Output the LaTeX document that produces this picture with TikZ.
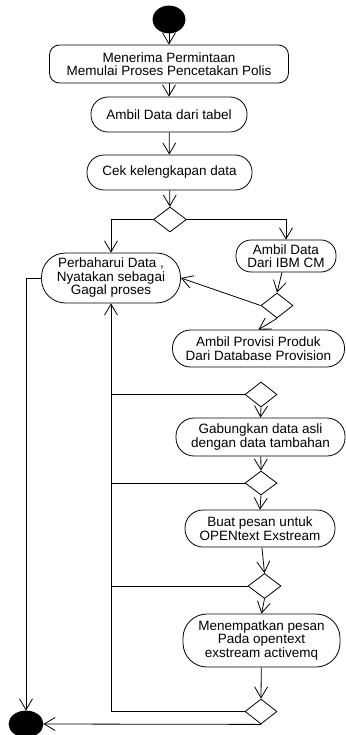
\documentclass[tikz,border=0pt]{standalone}
\usepackage{fontspec}
\setmainfont{Liberation Sans}
\usetikzlibrary{arrows.meta,shapes.geometric}
\begin{document}
\begin{tikzpicture}[x=1pt,y=-1pt,
  every path/.style={line width=0.8pt},
  act/.style={draw, fill=white, align=center, inner sep=0pt, font=\fontsize{13.5}{13.5}\selectfont},
  dec/.style={draw, fill=white, diamond, inner sep=0pt, minimum width=33pt, minimum height=25pt},
  blob/.style={ellipse, fill=black, draw=black, inner sep=0pt},
  arr/.style={-{Straight Barb[length=11pt,width=13pt]}}]
\useasboundingbox (0,0) rectangle (345,735);
\node[blob, minimum width=32pt, minimum height=27pt] (start) at (169,19.5) {};
\node[act, minimum width=239pt, minimum height=38pt, rounded corners=10pt] (b1) at (169,64) {Menerima Permintaan\\Memulai Proses Pencetakan Polis};
\node[act, minimum width=156pt, minimum height=35pt, rounded corners=17pt] (b2) at (169,114.5) {Ambil Data dari tabel};
\node[act, minimum width=165pt, minimum height=35pt, rounded corners=17pt] (b3) at (169.5,172.5) {Cek kelengkapan data};
\node[dec] (d1) at (170,219.5) {};
\node[act, minimum width=139pt, minimum height=50pt, rounded corners=24pt] (p) at (111,278) {Perbaharui Data ,\\Nyatakan sebagai\\Gagal proses};
\node[act, minimum width=100pt, minimum height=32pt, rounded corners=15pt] (ibm) at (286,256) {Ambil Data\\Dari IBM CM};
\node[dec, minimum width=32pt] (d2) at (277,305.5) {};
\node[act, minimum width=172pt, minimum height=37pt, rounded corners=18pt] (prov) at (258.5,348.5) {Ambil Provisi Produk\\Dari Database Provision};
\node[dec, minimum width=32pt] (d3) at (261,394.5) {};
\node[act, minimum width=169pt, minimum height=38pt, rounded corners=18pt] (gab) at (260.5,437) {Gabungkan data asli\\dengan data tambahan};
\node[dec, minimum width=32pt, minimum height=24pt] (d4) at (261,483) {};
\node[act, minimum width=150pt, minimum height=37pt, rounded corners=18pt] (buat) at (260,528.5) {Buat pesan untuk\\OPENtext Exstream};
\node[dec] (d5) at (264.5,586) {};
\node[act, minimum width=157pt, minimum height=53pt, rounded corners=24pt] (men) at (261.5,640.5) {Menempatkan pesan\\Pada opentext\\exstream activemq};
\node[dec, minimum width=32pt] (d6) at (261,711.5) {};
\node[blob, minimum width=34pt, minimum height=26pt] (end) at (26,724) {};

\draw[arr] (start) -- (b1);
\draw[arr] (b1) -- (b2);
\draw[arr] (b2) -- (b3);
\draw[arr] (b3) -- (d1);
\draw[arr] (d1.west) -| (p.north);
\draw[arr] (d1.east) -| (ibm.north);
\draw[arr] (ibm) -- (d2.north);
\draw[arr] (d2.west) -- (p.east);
\draw[arr] (d2.south) -- (prov.north);
\draw[arr] (d3.south) -- (gab.north);
\draw[arr] (gab) -- (d4.north);
\draw[arr] (d4.south) -- (buat.north);
\draw[arr] (buat) -- (d5.north);
\draw[arr] (d5.south) -- (men.north);
\draw[arr] (men) -- (d6.north);
\draw (d3.west) -- (d3.west -| p.south);
\draw (d4.west) -- (d4.west -| p.south);
\draw (d5.west) -- (d5.west -| p.south);
\draw[arr] (d6.west) -| (p.south);
\draw[arr] (p.west) -| (end.north);
\draw[arr] (d6.south) -- (end.east);
\end{tikzpicture}
\end{document}
